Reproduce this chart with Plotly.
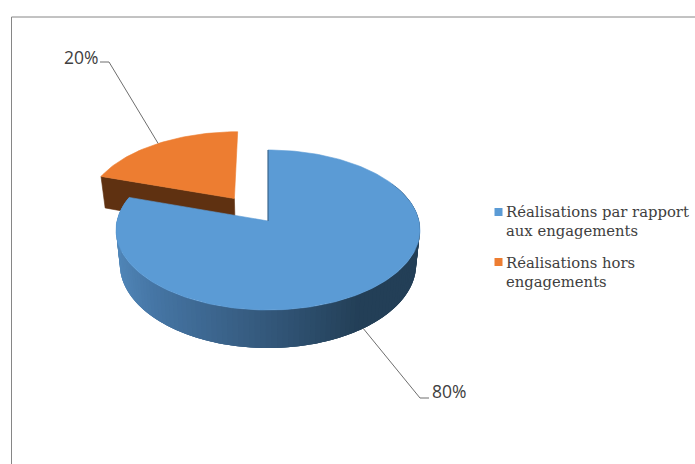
import numpy as np
import plotly.graph_objects as go

categories = ["Réalisations par rapport<br>aux engagements", "Réalisations hors<br>engagements"]
values = [80, 20]
top_colors = ["#5b9bd5", "#ed7d31"]
orange_wall = "#5f3111"
pct_labels = ["80%", "20%"]

W, H = 695, 464
CX, Y0, RX, RY, K, DEPTH, BOT_SCALE = 268.0, 221.0, 151.0, 79.0, 0.1125, 33.7, 0.975
EXPLODE_U, EXPLODE_V = 0.294, -0.23
FONT_SERIF = "DejaVu Serif"
FONT_SANS = "Open Sans"


def project(u, v, bottom=False):
    """Perspective projection of a point on the unit pie disc to the drawing scale."""
    d = 1 + K * u
    x = RX * v / d
    y = Y0 - RY * u / d
    if bottom:
        x = x * BOT_SCALE
        y = y + DEPTH / d
    return CX + x, y


def arc(t0, t1, n, u0=0.0, v0=0.0, bottom=False):
    t = np.radians(np.linspace(t0, t1, n))
    return project(u0 + np.cos(t), v0 + np.sin(t), bottom)


def fill(fig, x, y, color, name, lw=0.6):
    fig.add_trace(go.Scatter(x=list(x), y=list(y), mode="lines", fill="toself",
                             fillcolor=color, line=dict(color=color, width=lw),
                             hoverinfo="skip", showlegend=False, name=name))


fig = go.Figure()
share = [v / sum(values) * 360 for v in values]

# Exploded small slice: wall then top
a0, a1 = 360 - share[1], 360.0
ax, ay = project(EXPLODE_U, EXPLODE_V)
bx, by = project(EXPLODE_U, EXPLODE_V, True)
tx, ty = project(EXPLODE_U + np.cos(np.radians(a0)), EXPLODE_V + np.sin(np.radians(a0)))
sx, sy = project(EXPLODE_U + np.cos(np.radians(a0)), EXPLODE_V + np.sin(np.radians(a0)), True)
fill(fig, [tx, ax, bx, sx, tx], [ty, ay, by, sy, ty], orange_wall, "wall")
x, y = arc(a0, a1, 50, EXPLODE_U, EXPLODE_V)
fill(fig, [ax, *x, ax], [ay, *y, ay], top_colors[1], categories[1])

# Large slice: shaded rim then top (each band overlaps the next so no seams show)
shade_pos = [0.0, 0.22, 0.5, 0.85, 1.0]
shade_rgb = [(35, 63, 87), (35, 63, 87), (52, 88, 123), (70, 118, 165), (82, 136, 186)]
steps = np.linspace(60, share[0], 120)
for i in range(len(steps) - 1):
    f = (1 - np.sin(np.radians((steps[i] + steps[i + 1]) / 2))) / 2
    c = [int(np.interp(f, shade_pos, [s[j] for s in shade_rgb])) for j in range(3)]
    end = steps[min(i + 3, len(steps) - 1)]
    xt, yt = arc(steps[i], end, 5)
    xb, yb = arc(end, steps[i], 5, bottom=True)
    fig.add_trace(go.Scatter(x=[*xt, *xb, xt[0]], y=[*yt, *yb, yt[0]], mode="none", fill="toself",
                             fillcolor=f"rgb({c[0]},{c[1]},{c[2]})", hoverinfo="skip", showlegend=False, name="rim"))

x, y = arc(0, share[0], 200)
ox, oy = project(0, 0)
fill(fig, [ox, *x, ox], [oy, *y, oy], top_colors[0], categories[0])

# Thin dark edge of the inner wall
ex, ey = project(1, 0)
fig.add_trace(go.Scatter(x=[ex, ox], y=[ey, oy], mode="lines", line=dict(color="#2a4a68", width=0.8),
                         hoverinfo="skip", showlegend=False))

# Leader lines, anchored on slice mid-angles
LINE = "#6e6e6e"
m = np.radians(360 - share[1] / 2)
lx, ly = project(EXPLODE_U + np.cos(m), EXPLODE_V + np.sin(m))
fig.add_trace(go.Scatter(x=[lx, 109, 100], y=[ly, 62, 62], mode="lines", line=dict(color=LINE, width=1),
                         hoverinfo="skip", showlegend=False))
m = np.radians(share[0] / 2)
lx, ly = project(np.cos(m), np.sin(m), True)
fig.add_trace(go.Scatter(x=[lx, 420, 429], y=[ly, 398, 398], mode="lines", line=dict(color=LINE, width=1),
                         hoverinfo="skip", showlegend=False))

# Legend swatches
fig.add_trace(go.Scatter(x=[498.5, 498.5], y=[212, 262], mode="markers",
                         marker=dict(symbol="square", size=8, color=top_colors[:2], line=dict(width=0)),
                         hoverinfo="skip", showlegend=False))

ann = []
for txt, xp, yp in [(pct_labels[1], 81, 57), (pct_labels[0], 449, 391)]:
    ann.append(dict(x=xp, y=yp, text=txt, showarrow=False, xref="x", yref="y",
                    font=dict(family=FONT_SANS, size=17.5, color="#404040")))
for txt, yp in [(categories[0], 221), (categories[1], 272)]:
    ann.append(dict(x=504, y=yp, text=txt, showarrow=False, xref="x", yref="y", xanchor="left",
                    align="left", font=dict(family=FONT_SERIF, size=14.8, color="#404040")))

fig.update_layout(
    width=W, height=H, margin=dict(l=0, r=0, t=0, b=0), autosize=False,
    paper_bgcolor="white", plot_bgcolor="white", showlegend=False, annotations=ann,
    xaxis=dict(range=[0, W], visible=False, fixedrange=True),
    yaxis=dict(range=[H, 0], visible=False, fixedrange=True),
    shapes=[
        dict(type="line", xref="x", yref="y", x0=11.5, x1=W, y0=17, y1=17, line=dict(color="#868686", width=1)),
        dict(type="line", xref="x", yref="y", x0=11.5, x1=11.5, y0=17, y1=H, line=dict(color="#868686", width=1)),
    ],
)
fig.write_html("out.html", config={"displayModeBar": False},
               post_script="document.body.style.margin='0';document.body.style.overflow='hidden';")
